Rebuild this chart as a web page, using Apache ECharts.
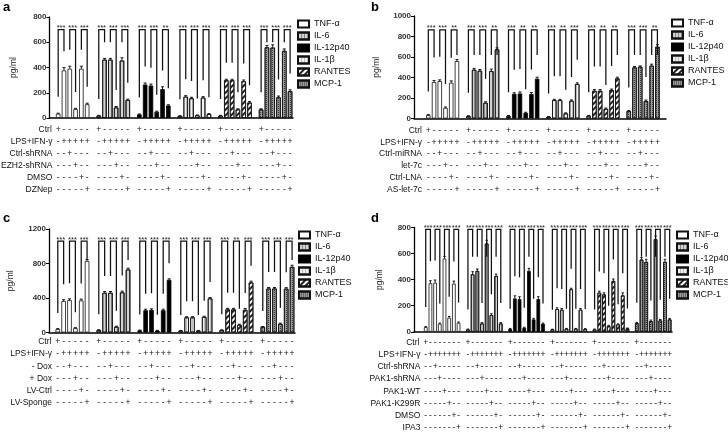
<!DOCTYPE html>
<html><head><meta charset="utf-8">
<script src="https://cdn.jsdelivr.net/npm/echarts@6/dist/echarts.min.js"></script>
<style>html,body{margin:0;padding:0;background:#fff}#c{width:728px;height:432px}</style>
</head><body><div id="c"></div>
<script>
const FF = 'Liberation Sans, Arial, sans-serif';
const cytokines = ['TNF-α','IL-6','IL-12p40','IL-1β','RANTES','MCP-1'];

// ---- Panel a ----
const rowLabelsA = ['Ctrl','LPS+IFN-γ','Ctrl-shRNA','EZH2-shRNA','DMSO','DZNep'];
const signsA = ['+-----','-+++++','--+---','---+--','----+-','-----+'];
const yTicksA = [0,200,400,600,800];
const valuesA = [
  [34,377,390,70,390,109],
  [18,462,462,83,455,143],
  [29,265,257,49,229,99],
  [16,169,156,21,161,31],
  [18,299,299,68,291,122],
  [68,560,558,164,532,213]];
const errorsA = [
  [4,22,20,6,20,8],
  [3,10,10,8,22,6],
  [3,12,12,5,18,6],
  [2,8,8,3,8,4],
  [3,8,8,5,10,8],
  [5,15,22,10,15,10]];
const starsA = [['***','***','***'],['***','***','***'],['***','***','**'],['***','***','***'],['***','***','***'],['***','***','***']];

// ---- Panel b ----
const rowLabelsB = ['Ctrl','LPS+IFN-γ','Ctrl-miRNA','let-7c','Ctrl-LNA','AS-let-7c'];
const signsB = ['+-----','-+++++','--+---','---+--','----+-','-----+'];
const yTicksB = [0,200,400,600,800,1000];
const valuesB = [
  [33,355,365,104,349,560],
  [23,475,466,153,462,674],
  [26,241,244,55,238,388],
  [16,179,179,49,173,336],
  [26,270,270,94,277,391],
  [72,498,505,170,515,700]];
const errorsB = [
  [5,15,12,8,18,15],
  [4,12,12,10,20,15],
  [4,10,15,6,15,15],
  [3,8,8,6,8,12],
  [4,12,12,8,10,12],
  [6,10,8,10,15,20]];
const starsB = [['***','***','**'],['***','***','**'],['***','**','**'],['***','**','***'],['***','**','**'],['***','***','**']];

// ---- Panel c ----
const rowLabelsC = ['Ctrl','LPS+IFN-γ','- Dox','+ Dox','LV-Ctrl','LV-Sponge'];
const signsC = ['+-----','-+++++','--+---','---+--','----+-','-----+'];
const yTicksC = [0,400,800,1200];
const valuesC = [
  [40,365,375,50,372,830],
  [28,460,460,65,465,730],
  [25,258,262,22,258,610],
  [20,175,175,20,180,395],
  [28,268,268,88,262,580],
  [65,510,510,100,508,760]];
const errorsC = [
  [5,15,15,6,15,15],
  [4,15,15,8,15,15],
  [3,12,12,3,12,12],
  [3,8,8,3,8,10],
  [3,12,12,8,15,15],
  [5,12,12,8,12,20]];
const starsC = [['***','***','***'],['***','***','***'],['***','***','***'],['***','***','***'],['***','**','***'],['***','***','***']];

// ---- Panel d ----
const rowLabelsD = ['Ctrl','LPS+IFN-γ','Ctrl-shRNA','PAK1-shRNA','PAK1-WT','PAK1-K299R','DMSO','IPA3'];
const signsD = ['+-------','-+++++++','--+-----','---+----','----+---','-----+--','------+-','-------+'];
const yTicksD = [0,200,400,600,800];
const valuesD = [
  [36,372,377,62,562,108,369,69],
  [18,441,467,64,677,128,428,64],
  [23,256,251,31,467,95,251,62],
  [18,174,169,23,326,23,169,21],
  [18,300,287,44,390,56,279,26],
  [67,554,536,82,710,87,536,95]];
const errorsD = [
  [4,20,20,5,15,10,20,6],
  [3,20,15,6,25,10,15,6],
  [3,20,18,4,20,8,18,5],
  [2,10,10,3,8,3,10,3],
  [3,12,12,5,15,5,20,3],
  [5,15,20,8,25,8,20,8]];
const starsD = [['***','***','***','***'],['***','***','***','***'],['***','***','***','***'],['***','***','***','***'],['***','***','***','***'],['***','***','***','***']];

const pairs6 = [[0,1],[2,3],[4,5]];
const pairs8 = [[0,1],[2,3],[4,5],[6,7]];

const panels = [
  {rows:rowLabelsA, signs:signsA, values:valuesA, errors:errorsA, stars:starsA, yTicks:yTicksA, pairs:pairs6, letter:'a'},
  {rows:rowLabelsB, signs:signsB, values:valuesB, errors:errorsB, stars:starsB, yTicks:yTicksB, pairs:pairs6, letter:'b'},
  {rows:rowLabelsC, signs:signsC, values:valuesC, errors:errorsC, stars:starsC, yTicks:yTicksC, pairs:pairs6, letter:'c'},
  {rows:rowLabelsD, signs:signsD, values:valuesD, errors:errorsD, stars:starsD, yTicks:yTicksD, pairs:pairs8, letter:'d'}
];

// layout / style settings
const layouts = [
  {left:49, top:17, width:244, height:101, lead:1, trail:0, rowY0:12, rowStep:12, nameGap:-3, legendLeft:297, legendTop:19, bTop:700, bMin:100, bOff:130, yNameGap:31, lx:3, ly:1},
  {left:414, top:16, width:252, height:102.5, lead:2, trail:1, rowY0:12, rowStep:11.8, nameGap:-8, legendLeft:671, legendTop:18, bTop:865, bMin:245, bOff:225, yNameGap:33, lx:371, ly:1},
  {left:49, top:229, width:246, height:103.5, lead:1, trail:0, rowY0:9.5, rowStep:12.1, nameGap:-3, legendLeft:298, legendTop:230, bTop:1060, bMin:220, bOff:180, yNameGap:34, lx:3, ly:212},
  {left:414, top:227.5, width:258, height:104.5, lead:2, trail:0, rowY0:11, rowStep:12.1, nameGap:-7, legendLeft:676, legendTop:230, bTop:785, bMin:210, bOff:150, yNameGap:30, lx:371, ly:212}
];

const vStripe = (c)=>({symbol:'rect', symbolSize:1, color:c, dashArrayX:[1,1.6], dashArrayY:[1,0], rotation:0});
const barStyles = [
  {color:'#fff', borderColor:'#111', borderWidth:0.8},
  {color:'#d2d2d2', borderColor:'#111', borderWidth:0.8, decal:vStripe('rgba(60,60,60,0.5)')},
  {color:'#000', borderColor:'#000', borderWidth:0.8},
  {color:'#f0f0f0', borderColor:'#111', borderWidth:0.8, decal:vStripe('rgba(110,110,110,0.4)')},
  {color:'#fff', borderColor:'#111', borderWidth:0.8, decal:{symbol:'rect', symbolSize:1, color:'#222', dashArrayX:[1,0], dashArrayY:[1.3,1.9], rotation:-Math.PI/4}},
  {color:'#9a9a9a', borderColor:'#111', borderWidth:0.8, decal:{symbol:'rect', symbolSize:1, color:'#3a3a3a', dashArrayX:[1,1], dashArrayY:[1,1]}}
];

const grids=[], xAxes=[], yAxes=[], series=[], legends=[], graphics=[];

panels.forEach((p,pi)=>{
  const L = layouts[pi];
  const nG = p.values.length, nB = p.values[0].length;
  const nSlots = L.lead + nG*(nB+1) - 1 + L.trail;
  const slot = (g,k)=> L.lead + g*(nB+1) + k;
  const cats = Array.from({length:nSlots},(_,i)=>String(i));
  const slotInfo = cats.map((_,i)=>{
    const j = i - L.lead; if (j < 0) return null;
    const g = Math.floor(j/(nB+1)), k = j % (nB+1);
    if (g >= nG || k >= nB) return null;
    return [g,k];
  });
  grids.push({left:L.left, top:L.top, width:L.width, height:L.height, containLabel:false});
  const mainX = xAxes.length;
  xAxes.push({gridIndex:pi, type:'category', data:cats, axisLine:{show:true, lineStyle:{color:'#000', width:1.5}}, axisTick:{show:false}, axisLabel:{show:false}, splitLine:{show:false}});
  p.rows.forEach((name,r)=>{
    xAxes.push({gridIndex:pi, type:'category', data:cats, position:'bottom', offset:L.rowY0 + r*L.rowStep,
      axisLine:{show:false}, axisTick:{show:false}, splitLine:{show:false},
      axisLabel:{interval:0, margin:0, verticalAlign:'middle', fontSize:8.5, fontFamily:FF, color:'#111',
        formatter:(v,i)=>{const s = slotInfo[i]; return s ? p.signs[r][s[1]] : '';}},
      name:name, nameLocation:'start', nameGap:L.nameGap,
      nameTextStyle:{fontSize:8.5, fontFamily:FF, color:'#111', verticalAlign:'middle', align:'right'}});
  });
  const yt = p.yTicks;
  yAxes.push({gridIndex:pi, type:'value', min:yt[0], max:yt[yt.length-1], interval:yt[1]-yt[0],
    axisLine:{show:true, lineStyle:{color:'#000', width:1.3}}, axisTick:{show:true, length:3, lineStyle:{color:'#000'}},
    splitLine:{show:false}, axisLabel:{fontSize:8, fontWeight:'bold', color:'#333', margin:3, fontFamily:FF, formatter:(v)=>String(v)},
    name:'pg/ml', nameLocation:'middle', nameGap:L.yNameGap, nameTextStyle:{fontSize:8.5, color:'#222', fontFamily:FF}});

  cytokines.forEach((c,ci)=>{
    const data = cats.map((_,i)=>{const s = slotInfo[i]; return (s && s[0]===ci) ? p.values[ci][s[1]] : null;});
    series.push({type:'bar', name:c, xAxisIndex:mainX, yAxisIndex:pi, data:data, barGap:'-100%', barCategoryGap:'22%',
      itemStyle:barStyles[ci], silent:true, animation:false, z:2});
  });

  const errData = [];
  p.values.forEach((row,g)=>row.forEach((v,k)=>errData.push([slot(g,k), v, p.errors[g][k]])));
  series.push({type:'custom', xAxisIndex:mainX, yAxisIndex:pi, data:errData, z:3, silent:true, animation:false,
    renderItem:(params,api)=>{
      const x = api.value(0), v = api.value(1), e = api.value(2);
      const p0 = api.coord([x,v]), p1 = api.coord([x,v+e]);
      const hw = api.size([1,0])[0]*0.26;
      return {type:'group', children:[
        {type:'line', shape:{x1:p0[0], y1:p0[1], x2:p1[0], y2:p1[1]}, style:{stroke:'#000', lineWidth:0.9}},
        {type:'line', shape:{x1:p1[0]-hw, y1:p1[1], x2:p1[0]+hw, y2:p1[1]}, style:{stroke:'#000', lineWidth:0.9}}]};
    }});

  const brData = [], brLabels = [];
  p.values.forEach((row,g)=>p.pairs.forEach((pr,j)=>{
    const a = pr[0], b = pr[1];
    const ea = Math.min(row[a] + p.errors[g][a] + L.bOff, L.bTop - L.bMin);
    const eb = Math.min(row[b] + p.errors[g][b] + L.bOff, L.bTop - L.bMin);
    brData.push([slot(g,a), slot(g,b), ea, eb]);
    brLabels.push(p.stars[g][j]);
  }));
  series.push({type:'custom', xAxisIndex:mainX, yAxisIndex:pi, data:brData, z:4, silent:true, animation:false, clip:false,
    renderItem:(params,api)=>{
      const xa = api.value(0), xb = api.value(1);
      const A = api.coord([xa, api.value(2)]), T1 = api.coord([xa, L.bTop]), T2 = api.coord([xb, L.bTop]), B = api.coord([xb, api.value(3)]);
      return {type:'group', children:[
        {type:'polyline', shape:{points:[A,T1,T2,B]}, style:{stroke:'#111', lineWidth:1.25, fill:null}},
        {type:'text', x:(T1[0]+T2[0])/2, y:T1[1]+2.5, style:{text:brLabels[params.dataIndex], fontSize:7.5, fontFamily:FF, fill:'#222', align:'center', verticalAlign:'bottom'}}]};
    }});

  legends.push({orient:'vertical', left:L.legendLeft, top:L.legendTop, padding:0, itemWidth:11, itemHeight:7, itemGap:2,
    icon:'rect', selectedMode:false, data:cytokines, textStyle:{fontSize:9, lineHeight:10, fontFamily:FF, color:'#111'}});

  graphics.push({type:'text', left:L.lx, top:L.ly, style:{text:p.letter, font:'bold 13px ' + FF, fill:'#000'}});
});

const chart = echarts.init(document.getElementById('c'), null, {renderer:'canvas'});
chart.setOption({
  backgroundColor:'#fff', animation:false, textStyle:{fontFamily:FF},
  grid:grids, xAxis:xAxes, yAxis:yAxes, series:series, legend:legends, graphic:graphics
});
</script></body></html>
